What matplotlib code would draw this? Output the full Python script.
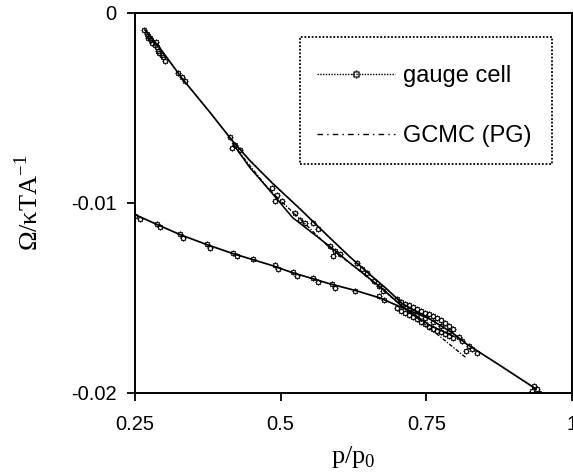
import numpy as np
import matplotlib
matplotlib.use("Agg")
import matplotlib.pyplot as plt
from matplotlib.path import Path
from matplotlib.lines import Line2D
from matplotlib.patches import Rectangle

# ---------------- data ----------------
# gauge cell, steep (filled-pore) branch continuing to high pressure
gc_a_p = [0.2671, 0.2928, 0.3305, 0.3784, 0.4178, 0.4469, 0.4863, 0.5325, 0.5839,
          0.6182, 0.6575, 0.6815, 0.7089, 0.7551, 0.7945, 0.8185, 0.8750, 0.9384]
gc_a_w = [-0.00090, -0.00185, -0.00343, -0.00522, -0.00675, -0.00776, -0.00897, -0.01029,
          -0.01182, -0.01282, -0.01388, -0.01451, -0.01530, -0.01609, -0.01683, -0.01741,
          -0.01852, -0.01979]
# gauge cell, second steep line
gc_b_p = [0.4178, 0.4469, 0.4812, 0.5205, 0.5890, 0.6182, 0.6747, 0.7089, 0.7551, 0.7945]
gc_b_w = [-0.00686, -0.00813, -0.00934, -0.01077, -0.01240, -0.01314, -0.01451, -0.01546,
          -0.01641, -0.01699]
# gauge cell, shallow (film) branch
gc_c_p = [0.2500, 0.2877, 0.3271, 0.3733, 0.4178, 0.4521, 0.4863, 0.5205, 0.5548, 0.5839,
          0.6301, 0.6695, 0.7089, 0.7551]
gc_c_w = [-0.01061, -0.01113, -0.01166, -0.01219, -0.01266, -0.01298, -0.01330, -0.01367,
          -0.01398, -0.01425, -0.01462, -0.01499, -0.01551, -0.01609]
# GCMC (PG)
gcmc_p = [0.4178, 0.4812, 0.5325, 0.5839, 0.6353, 0.6781, 0.7123, 0.7551, 0.8185]
gcmc_w = [-0.00691, -0.00934, -0.01082, -0.01235, -0.01356, -0.01467, -0.01551, -0.01657,
          -0.01815]

# gauge cell sampled points
pts_p = [
    # start of steep branch
    0.266, 0.270, 0.273, 0.275, 0.278, 0.280, 0.284, 0.287, 0.289, 0.292, 0.296, 0.298, 0.301,
    0.272, 0.286,
    0.3236, 0.3305, 0.3356,
    0.4127, 0.4212, 0.4298, 0.4161,
    0.4846, 0.4932, 0.5017, 0.4897,
    0.5240, 0.5325, 0.5411, 0.5548, 0.5634,
    0.5839, 0.5925, 0.6010, 0.5890,
    0.6318, 0.6404, 0.6490, 0.6610, 0.6695, 0.6764,
    # shallow branch
    0.2500, 0.2586, 0.2877, 0.2928, 0.3271, 0.3322, 0.3733, 0.3784, 0.4178, 0.4247, 0.4521,
    0.4897, 0.4949, 0.5205, 0.5274, 0.5548, 0.5634, 0.5873, 0.5925, 0.6284, 0.6695, 0.6781,
    # dense unstable region
    0.7003, 0.7003, 0.7072, 0.7072, 0.7140, 0.7140, 0.7209, 0.7209, 0.7209, 0.7277, 0.7277,
    0.7346, 0.7346, 0.7346, 0.7414, 0.7414, 0.7483, 0.7483, 0.7483, 0.7551, 0.7551, 0.7620,
    0.7620, 0.7620, 0.7688, 0.7688, 0.7757, 0.7757, 0.7757, 0.7825, 0.7825, 0.7894, 0.7894,
    0.7894, 0.7962, 0.7962,
    0.8065, 0.8116, 0.8236, 0.8288, 0.8185, 0.8373,
    0.9349, 0.9401, 0.9435, 0.9315,
]
pts_w = [
    -0.0009, -0.0011, -0.0012, -0.0013, -0.0014, -0.0016, -0.0017, -0.0018, -0.0020, -0.0021,
    -0.0022, -0.0023, -0.0025, -0.0013, -0.0015,
    -0.00317, -0.00338, -0.00359,
    -0.00654, -0.00697, -0.00723, -0.00712,
    -0.00923, -0.00960, -0.00987, -0.00987,
    -0.01055, -0.01092, -0.01103, -0.01103, -0.01135,
    -0.01224, -0.01251, -0.01266, -0.01277,
    -0.01314, -0.01346, -0.01367, -0.01409, -0.01435, -0.01462,
    -0.01066, -0.01082, -0.01108, -0.01124, -0.01161, -0.01182, -0.01214, -0.01235, -0.01261,
    -0.01277, -0.01293, -0.01325, -0.01346, -0.01361, -0.01383, -0.01393, -0.01414, -0.01425,
    -0.01446, -0.01462, -0.01488, -0.01509,
    -0.01504, -0.01551, -0.01520, -0.01567, -0.01530, -0.01578, -0.01536, -0.01588, -0.01562,
    -0.01546, -0.01599, -0.01557, -0.01609, -0.01583, -0.01567, -0.01625, -0.01578, -0.01636,
    -0.01604, -0.01583, -0.01652, -0.01594, -0.01662, -0.01625, -0.01604, -0.01673, -0.01615,
    -0.01678, -0.01646, -0.01631, -0.01689, -0.01646, -0.01699, -0.01673, -0.01662, -0.01710,
    -0.01704, -0.01726, -0.01752, -0.01768, -0.01778, -0.01789,
    -0.01963, -0.01979, -0.02000, -0.01989,
]

x_ticks = [0.25, 0.5, 0.75, 1.0]
x_ticklabels = ["0.25", "0.5", "0.75", "1"]
y_ticks = [0.0, -0.01, -0.02]
y_ticklabels = ["0", "-0.01", "-0.02"]
legend_labels = ["gauge cell", "GCMC (PG)"]

# ---------------- style ----------------
sans = ["Liberation Sans", "DejaVu Sans"]
serif = ["Liberation Serif", "DejaVu Serif"]
plt.rcParams["font.family"] = sans
plt.rcParams["mathtext.fontset"] = "custom"
plt.rcParams["mathtext.rm"] = "Liberation Serif"

# dotted-ring marker
ring = []
for k in range(8):
    a = 2 * np.pi * k / 8
    ring.append(Path.circle((np.cos(a), np.sin(a)), 0.38))
ring_marker = Path.make_compound_path(*ring)

fig = plt.figure(figsize=(5.73, 4.74), dpi=100)
ax = fig.add_axes([135 / 573, 1 - 393 / 474, 437 / 573, 380 / 474])

lw = 1.25
ax.plot(gc_a_p, gc_a_w, color="black", lw=lw)
ax.plot(gc_b_p, gc_b_w, color="black", lw=lw * 0.9)
ax.plot(gc_c_p, gc_c_w, color="black", lw=lw)
ax.plot(gcmc_p, gcmc_w, color="black", lw=0.95, linestyle=(0, (3, 1.2, 1, 1.2)))
ax.plot(pts_p, pts_w, linestyle="none", marker=ring_marker, markersize=4.5,
        markerfacecolor="black", markeredgecolor="none")

ax.set_xlim(0.25, 1.0)
ax.set_ylim(-0.02, 0.0)
ax.set_xticks(x_ticks)
ax.set_xticklabels(x_ticklabels)
ax.set_yticks(y_ticks)
ax.set_yticklabels(y_ticklabels)
ax.tick_params(axis="both", direction="out", length=5.5, width=1.3, labelsize=14.5,
               colors="black")
ax.tick_params(axis="x", pad=10)
ax.tick_params(axis="y", pad=8)
for s in ax.spines.values():
    s.set_linewidth(1.4)
    s.set_color("black")

ax.set_xlabel("p/p$_{\\mathregular{0}}$", family=serif, fontsize=19)
ax.set_ylabel("\u03a9/\u03baTA$^{\\mathregular{-1}}$", family=serif, fontsize=19)
ax.xaxis.set_label_coords(0.5, -0.135)
ax.yaxis.set_label_coords(-0.21, 0.5)

h1 = Line2D([], [], color="black", lw=1.0, linestyle=(0, (1, 1)),
            marker=ring_marker, markersize=6, markerfacecolor="#222222",
            markeredgecolor="none")
h2 = Line2D([], [], color="black", lw=1.0, linestyle=(0, (4, 3, 1, 3)))
leg = ax.legend([h1, h2], legend_labels, loc="upper left",
                bbox_to_anchor=((317 - 135) / 437, (393 - 65) / 380), borderaxespad=0,
                fontsize=17, handlelength=3.3, handletextpad=0.35, labelspacing=1.62,
                borderpad=0, numpoints=1, frameon=False)

# dotted legend frame
frame = Rectangle(((300 - 135) / 437, (393 - 164) / 380), (552 - 300) / 437,
                  (164 - 37) / 380, transform=ax.transAxes, fill=False,
                  edgecolor="black", lw=1.3, linestyle=(0, (1, 1)), zorder=5)
ax.add_patch(frame)

fig.savefig("out.png", dpi=100)
